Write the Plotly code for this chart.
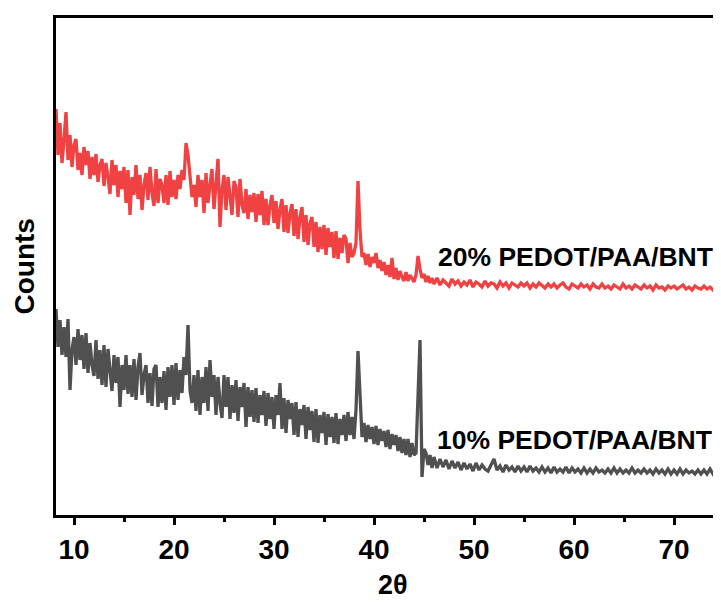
import numpy as np
import plotly.graph_objects as go

# 2-theta grid (degrees): 0.2 deg step up to 45.8, then 0.3 deg step to 74.8
two_theta = list(np.round(8.2 + 0.2 * np.arange(189), 2)) + list(np.round(46.0 + 0.3 * np.arange(97), 2))

# 20% PEDOT/PAA/BNT counts (a.u.)
counts_20 = [
    406, 360, 392, 352, 375,  403, 355, 380, 348, 370,  376, 345, 362, 340, 368,
    350, 364, 336, 358, 340,  361, 333, 350, 356, 329,  352, 338, 321, 355, 330,
    350, 318, 344, 326, 348,  312, 345, 300, 338, 320,  350, 316, 340, 305, 330,
    342, 315, 348, 322, 309,  346, 312, 336, 330, 312,  340, 310, 344, 318, 335,
    316, 340, 326, 345, 335,  372, 360, 340, 318, 330,  308, 340, 318, 335, 302,
    342, 312, 330, 346, 306,  334, 356, 288, 325, 340,  305, 338, 315, 300, 334,
    328, 298, 336, 310, 302,  326, 296, 320, 303, 322,  293, 321, 300, 324, 290,
    316, 290, 310, 320, 292,  314, 286, 306, 316, 283,  310, 282, 302, 311, 279,
    306, 276, 298, 308, 273,  300, 270, 292, 298, 268,  293, 263, 288, 266, 290,
    260, 287, 268, 283, 257,  284, 256, 277, 262, 280,  276, 252, 272, 258, 262,
    272, 334, 285, 258, 262,  250, 261, 248, 258, 252,  262, 247, 255, 244, 253,
    240, 250, 238, 257, 236,  247, 235, 244, 238, 234,  243, 234, 240, 236, 233,
    240, 259, 246, 237, 241,  233, 239, 232, 237,
    231, 237, 230, 235, 232, 229, 236, 231, 234, 229,
    233, 230, 235, 228, 233, 231, 228, 234, 229, 232,
    231, 227, 233, 229, 232, 227, 232, 230, 228, 232,
    229, 232, 227, 231, 228, 232, 229, 227, 231, 228,
    231, 227, 230, 232, 228, 226, 231, 229, 227, 231,
    228, 230, 226, 231, 228, 227, 231, 227, 229, 226,
    230, 228, 226, 231, 227, 229, 226, 230, 228, 226,
    230, 227, 229, 225, 230, 227, 228, 225, 229, 227,
    229, 226, 228, 230, 226, 228, 225, 229, 227, 226,
    229, 226, 228, 225, 228, 226, 227,
]

# 10% PEDOT/PAA/BNT counts (a.u.)
counts_10 = [
    206, 168, 195, 160, 188,  158, 196, 125, 165, 178,  150, 186, 155, 180, 146,
    182, 142, 172, 150, 139,  175, 136, 165, 130, 170,  128, 166, 140, 124, 160,
    132, 158, 108, 150, 125,  160, 121, 150, 118, 156,  115, 148, 162, 120, 140,
    150, 112, 142, 109, 146,  150, 108, 138, 112, 144,  105, 148, 118, 150, 110,
    152, 115, 145, 122, 158,  140, 190, 125, 112, 140,  104, 145, 100, 138, 112,
    148, 104, 155, 118, 140,  100, 138, 112, 97, 140,   108, 138, 96, 130, 102,
    135, 94, 128, 108, 132,   88, 128, 98, 125, 93,    127, 92, 120, 100, 124,
    89, 122, 96, 118, 86,     120, 100, 132, 86, 117,   82, 115, 96, 112, 80,
    113, 78, 106, 90, 110,    76, 108, 85, 104, 73,     106, 72, 100, 82, 103,
    70, 101, 78, 98, 72,      102, 71, 96, 80, 100,     74, 103, 80, 98, 76,
    105, 164, 112, 78, 92,    73, 90, 76, 88, 71,       89, 70, 86, 74, 84,
    68, 85, 66, 81, 70,       80, 64, 78, 62, 76,       60, 76, 58, 72, 60,
    62, 110, 175, 38, 66,     62, 50, 60, 47,
    58, 47, 56, 48, 55, 46, 54, 47, 53, 45,
    52, 46, 51, 44, 52, 45, 50, 46, 44, 50,
    56, 45, 49, 43, 50, 45, 48, 43, 49, 44,
    48, 43, 49, 44, 47, 43, 48, 43, 47, 42,
    48, 43, 46, 43, 48, 42, 47, 43, 46, 42,
    47, 42, 46, 42, 47, 43, 45, 42, 46, 42,
    47, 42, 46, 42, 45, 42, 47, 42, 45, 42,
    46, 42, 45, 41, 46, 42, 45, 41, 46, 41,
    45, 41, 46, 41, 45, 42, 44, 41, 45, 41,
    45, 41, 46, 41, 44, 41, 45,
]

labels = ["20% PEDOT/PAA/BNT", "10% PEDOT/PAA/BNT"]
x_ticks = [10, 20, 30, 40, 50, 60, 70]

FONT = "Arial, Liberation Sans, sans-serif"

fig = go.Figure()
fig.add_trace(go.Scatter(x=two_theta, y=counts_20, mode="lines",
                         line=dict(color="#F04242", width=3.3), name=labels[0],
                         showlegend=False))
fig.add_trace(go.Scatter(x=two_theta, y=counts_10, mode="lines",
                         line=dict(color="#505050", width=3.3), name=labels[1],
                         showlegend=False))

fig.add_annotation(x=46.2, y=258, text=labels[0], showarrow=False, xanchor="left",
                   yanchor="middle", font=dict(family=FONT, size=26.5, color="black", weight="bold"))
fig.add_annotation(x=46.1, y=75, text=labels[1], showarrow=False, xanchor="left",
                   yanchor="middle", font=dict(family=FONT, size=26.5, color="black", weight="bold"))

fig.add_annotation(xref="paper", yref="paper", x=(393 - 56) / 665, y=-0.14,
                   text="2θ", showarrow=False, xanchor="center", yanchor="middle",
                   font=dict(family=FONT, size=27, color="black", weight="bold"))
fig.add_annotation(xref="paper", yref="paper", x=(24 - 56) / 665, y=0.5,
                   text="Counts", showarrow=False, textangle=-90, xanchor="center",
                   yanchor="middle",
                   font=dict(family=FONT, size=28, color="black", weight="bold"))

# page body has an 8px margin, so the figure is sized/offset to compensate
fig.update_layout(
    width=713, height=594,
    margin=dict(l=48, r=0, t=10, b=87),
    paper_bgcolor="white", plot_bgcolor="white",
    xaxis=dict(range=[8.2, 74.7], tickvals=x_ticks, ticks="outside", ticklen=7,
               tickwidth=2.5, tickcolor="black", showline=True, linecolor="black",
               linewidth=3, mirror=True, showgrid=False, zeroline=False,
               tickfont=dict(family=FONT, size=28, color="black", weight="bold"),
               minor=dict(tickvals=[15, 25, 35, 45, 55, 65], ticks="outside",
                          ticklen=4, tickwidth=2.5, tickcolor="black")),
    yaxis=dict(range=[0, 497], showticklabels=False, ticks="", showline=True,
               linecolor="black", linewidth=3, showgrid=False, zeroline=False),
)

fig.write_html("out.html")
